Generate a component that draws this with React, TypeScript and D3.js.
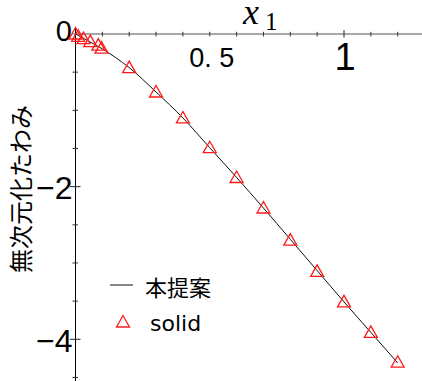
import React from "react";
import * as d3 from "d3";

// Simulation samples (solid model) and the proposed-method curve
const solidX = [0, 0.01, 0.03, 0.055, 0.085, 0.097, 0.2, 0.3, 0.4, 0.5, 0.6, 0.7, 0.8, 0.9, 1.0, 1.1, 1.2];
const solidY = [0, -0.03, -0.06, -0.1, -0.145, -0.185, -0.44, -0.76, -1.1, -1.49, -1.88, -2.28, -2.7, -3.11, -3.51, -3.91, -4.3];

const proposedX = [0, 0.05, 0.1, 0.15, 0.2, 0.3, 0.4, 0.5, 0.6, 0.7, 0.8, 0.9, 1.0, 1.1, 1.2];
const proposedY = [0, -0.095, -0.195, -0.31, -0.44, -0.76, -1.1, -1.49, -1.88, -2.28, -2.69, -3.1, -3.51, -3.91, -4.31];

const xMinorTicks = [0.1, 0.2, 0.3, 0.4, 0.5, 0.6, 0.7, 0.8, 0.9, 1.1, 1.2];
const xMajorTicks = [1.0];
const yMinorTicks = [-0.5, -1, -1.5, -2.5, -3, -3.5, -4.5];
const yMajorTicks = [-2, -4];

const seriesNames = ["本提案", "solid"];
const yTitle = "無次元化たわみ";

const W = 422;
const H = 381;

export default function App() {
  const x = d3.scaleLinear().domain([0, 1]).range([75.5, 344]);
  const y = d3.scaleLinear().domain([0, -4]).range([34, 339.3]);

  const line = d3
    .line<number>()
    .x((_, i) => x(proposedX[i]))
    .y((d) => y(d))
    .curve(d3.curveMonotoneX);

  const tri = (cx: number, cy: number) =>
    `M${cx},${cy - 6.5}L${cx + 6.5},${cy + 5}L${cx - 6.5},${cy + 5}Z`;

  const x0 = x(0);
  const y0 = y(0);

  return (
    <svg
      width={W}
      height={H}
      style={{ position: "absolute", left: 0, top: 0, background: "#fff" }}
      fontFamily="'Liberation Sans', Arial, sans-serif"
    >
      {/* horizontal axis along y = 0 */}
      <line x1={x0 - 3} x2={W} y1={y0} y2={y0} stroke="#8a8a8a" strokeWidth={1.6} />
      {xMinorTicks.map((t) => (
        <line key={"xm" + t} x1={x(t)} x2={x(t)} y1={y0 - 2.2} y2={y0 + 2.5} stroke="#333" strokeWidth={1} />
      ))}
      {xMajorTicks.map((t) => (
        <line key={"xM" + t} x1={x(t)} x2={x(t)} y1={y0 - 4} y2={y0 + 3.5} stroke="#222" strokeWidth={1} />
      ))}

      {/* vertical axis along x = 0 */}
      <line x1={x0} x2={x0} y1={y0 - 6} y2={H} stroke="#000" strokeWidth={1} />
      {yMinorTicks.map((t) => (
        <line key={"ym" + t} x1={x0 - 3} x2={x0 + 2.5} y1={y(t)} y2={y(t)} stroke="#333" strokeWidth={1} />
      ))}
      {yMajorTicks.map((t) => (
        <line key={"yM" + t} x1={x0 - 5.5} x2={x0 + 5} y1={y(t)} y2={y(t)} stroke="#222" strokeWidth={1} />
      ))}

      {/* tick labels */}
      <text x={72} y={41} fontSize={29} textAnchor="end" fill="#000">0</text>
      <text x={x(0.5) + 2} y={67} fontSize={27} textAnchor="middle" fill="#000">0. 5</text>
      <text x={x(1) + 1} y={70} fontSize={38} textAnchor="middle" fill="#000">1</text>
      {yMajorTicks.map((t) => (
        <text key={"yl" + t} x={72.5} y={y(t) + 12.5} fontSize={32} textAnchor="end" fill="#000">
          {"\u2212" + Math.abs(t)}
        </text>
      ))}

      {/* axis titles */}
      <text x={243} y={24} fontSize={36} fontStyle="italic" fontFamily="'Liberation Serif', 'Times New Roman', serif" fill="#000">
        x
      </text>
      <text x={265} y={30} fontSize={25} fontFamily="'Liberation Serif', 'Times New Roman', serif" fill="#000">
        1
      </text>
      <text
        transform="translate(30,189) rotate(-90)"
        fontSize={24}
        textAnchor="middle"
        fontFamily="'Noto Sans CJK JP', sans-serif"
        fill="#000"
      >
        {yTitle}
      </text>

      {/* proposed-method curve */}
      <path d={line(proposedY) ?? ""} fill="none" stroke="#111" strokeWidth={1} />

      {/* solid-model markers */}
      {solidY.map((v, i) => (
        <path key={"s" + i} d={tri(x(solidX[i]), y(v))} fill="none" stroke="#ff1a1a" strokeWidth={1.3} />
      ))}

      {/* legend */}
      <line x1={110} x2={133} y1={285} y2={285} stroke="#111" strokeWidth={1} />
      <text x={145} y={295.5} fontSize={22} fontFamily="'Noto Sans CJK JP', sans-serif" fill="#000">
        {seriesNames[0]}
      </text>
      <path d={tri(123, 322)} fill="none" stroke="#ff1a1a" strokeWidth={1.3} />
      <text x={150} y={331} fontSize={22} fontFamily="'DejaVu Sans', sans-serif" fill="#000">
        {seriesNames[1]}
      </text>
    </svg>
  );
}
